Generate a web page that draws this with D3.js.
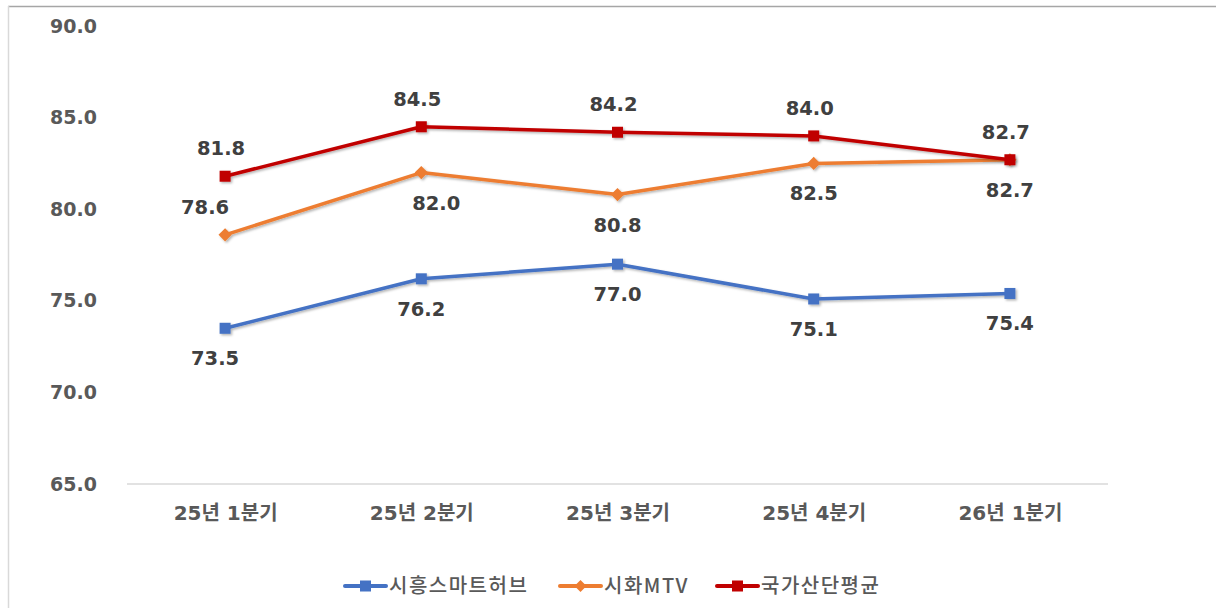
<!DOCTYPE html>
<html>
<head>
<meta charset="utf-8">
<script src="https://cdn.jsdelivr.net/npm/d3@7"></script>
<style>
  body { margin: 0; background: #fff; }
  svg { display: block; }
</style>
</head>
<body>
<div id="chart"></div>
<script>
// chart data
const categories = ['25년 1분기', '25년 2분기', '25년 3분기', '25년 4분기', '26년 1분기'];
const seriesNames = ['시흥스마트허브', '시화MTV', '국가산단평균'];
const siheungValues = [73.5, 76.2, 77.0, 75.1, 75.4];
const sihwaValues = [78.6, 82.0, 80.8, 82.5, 82.7];
const nationalValues = [81.8, 84.5, 84.2, 84.0, 82.7];
const yTicks = [65, 70, 75, 80, 85, 90];

const size = { width: 1216, height: 608 };
const plot = { left: 127, right: 1108, top: 26, bottom: 484 };
const numFont = '"DejaVu Sans", Verdana, sans-serif';
const korFont = '"DejaVu Sans", "Noto Sans CJK KR", sans-serif';

const series = [
    { name: seriesNames[0], values: siheungValues, color: '#4472C4', marker: 'square', label: 'below' },
    { name: seriesNames[1], values: sihwaValues, color: '#ED7D31', marker: 'diamond', label: 'below' },
    { name: seriesNames[2], values: nationalValues, color: '#C00000', marker: 'square', label: 'above' }
];

let svg = d3.select('#chart').append('svg')
    .attr('width', size.width)
    .attr('height', size.height);

// subtle drop shadow like the office chart effect
let shadow = svg.append('defs').append('filter')
    .attr('id', 'shadow')
    .attr('x', '-20%').attr('y', '-50%')
    .attr('width', '140%').attr('height', '200%');
shadow.append('feDropShadow')
    .attr('dx', 1.5).attr('dy', 1.5)
    .attr('stdDeviation', 1.2)
    .attr('flood-color', '#000')
    .attr('flood-opacity', 0.3);

// frame (top + left edges visible)
svg.append('line')
    .attr('x1', 8).attr('x2', size.width).attr('y1', 6.5).attr('y2', 6.5)
    .attr('stroke', '#a6a6a6').attr('stroke-width', 1.5);
svg.append('line')
    .attr('x1', 8.5).attr('x2', 8.5).attr('y1', 6).attr('y2', size.height)
    .attr('stroke', '#d9d9d9').attr('stroke-width', 1.5);

let xScale = d3.scalePoint()
    .domain(categories)
    .range([plot.left, plot.right])
    .padding(0.5);

let yScale = d3.scaleLinear()
    .domain([65, 90])
    .range([plot.bottom, plot.top]);

// y axis labels
let yAxis = svg.append('g')
    .attr('transform', `translate(${plot.left}, 0)`)
    .call(d3.axisLeft(yScale).tickValues(yTicks).tickFormat(d3.format('.1f')).tickSize(0).tickPadding(30));
yAxis.select('.domain').remove();
yAxis.selectAll('text')
    .attr('font-family', numFont)
    .attr('font-weight', 'bold')
    .attr('font-size', 19)
    .attr('fill', '#595959');

// baseline
svg.append('line')
    .attr('x1', plot.left).attr('x2', plot.right)
    .attr('y1', yScale(65)).attr('y2', yScale(65))
    .attr('stroke', '#d9d9d9').attr('stroke-width', 1.5);

// x axis labels
let xAxis = svg.append('g')
    .attr('transform', `translate(0, ${plot.bottom})`)
    .call(d3.axisBottom(xScale).tickSize(0).tickPadding(22));
xAxis.select('.domain').remove();
xAxis.selectAll('text')
    .attr('font-family', korFont)
    .attr('font-weight', 'bold')
    .attr('font-size', 20)
    .attr('fill', '#595959');

function drawMarker(g, type, x, y, color, s) {
    if (type === 'diamond') {
        g.append('path')
            .attr('d', `M${x},${y - s * 0.6}L${x + s * 0.6},${y}L${x},${y + s * 0.6}L${x - s * 0.6},${y}Z`)
            .attr('fill', color);
    } else {
        g.append('rect')
            .attr('x', x - s / 2).attr('y', y - s / 2)
            .attr('width', s).attr('height', s)
            .attr('fill', color);
    }
}

let line = d3.line()
    .x((d, i) => xScale(categories[i]))
    .y(d => yScale(d));

series.forEach(s => {
    let g = svg.append('g').attr('filter', 'url(#shadow)');
    g.append('path')
        .attr('d', line(s.values))
        .attr('fill', 'none')
        .attr('stroke', s.color)
        .attr('stroke-width', 3.5)
        .attr('stroke-linejoin', 'round');
    s.values.forEach((v, i) => {
        drawMarker(g, s.marker, xScale(categories[i]), yScale(v), s.color, s.marker === 'diamond' ? 11 : 11);
    });
});

// data labels
series.forEach((s, si) => {
    s.values.forEach((v, i) => {
        let x = xScale(categories[i]);
        let y = yScale(v);
        let above = s.label === 'above';
        let dx = 0;
        // first orange point has its label placed above-left
        if (si === 1 && i === 0) { above = true; dx = -20; }
        if (si === 1 && i === 1) dx = 15;
        if (si === 0 && i === 0) dx = -10;
        if (si === 2) dx = -4;
        svg.append('text')
            .attr('x', x + dx)
            .attr('y', above ? y - 28 : y + 30)
            .attr('dy', '0.36em')
            .attr('text-anchor', 'middle')
            .attr('font-family', numFont)
            .attr('font-weight', 'bold')
            .attr('font-size', 19.5)
            .attr('fill', '#404040')
            .text(d3.format('.1f')(v));
    });
});

// legend
const legendX = [345, 560, 717];
let legend = svg.append('g');
series.forEach((s, i) => {
    let lx = legendX[i];
    let ly = 586;
    legend.append('line')
        .attr('x1', lx).attr('x2', lx + 41)
        .attr('y1', ly).attr('y2', ly)
        .attr('stroke', s.color).attr('stroke-width', 4)
        .attr('stroke-linecap', 'round');
    drawMarker(legend, s.marker, lx + 20.5, ly, s.color, s.marker === 'diamond' ? 10 : 11);
    legend.append('text')
        .attr('x', lx + 44)
        .attr('y', ly)
        .attr('dy', '0.35em')
        .attr('font-family', '"Noto Sans CJK KR", sans-serif')
        .attr('font-size', 20)
        .attr('font-weight', 500)
        .attr('letter-spacing', 1.5)
        .attr('fill', '#595959')
        .text(s.name);
});
</script>
</body>
</html>
